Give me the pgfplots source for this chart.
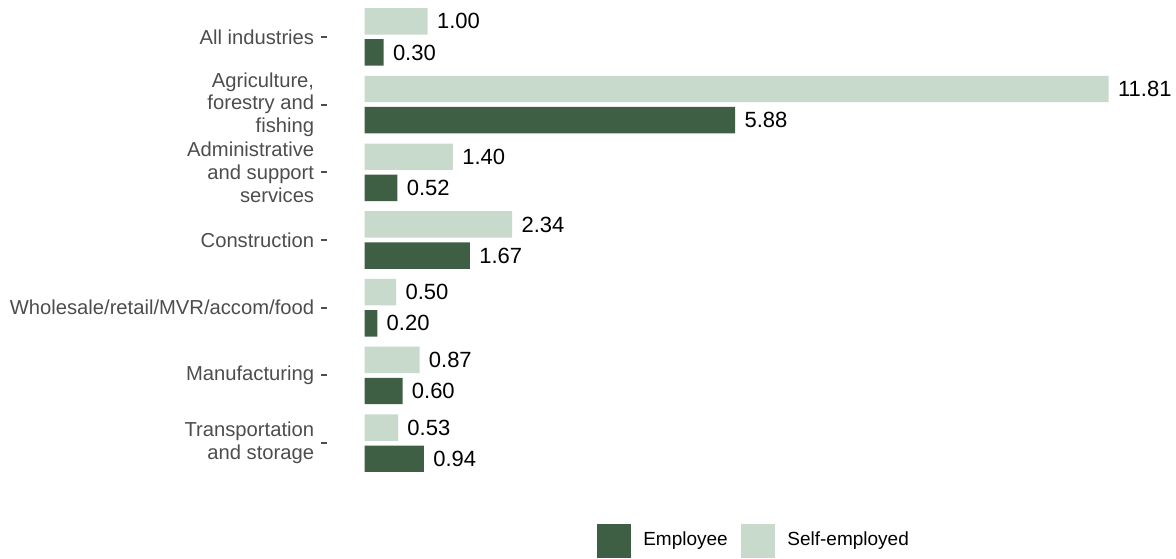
\documentclass[border=0pt]{standalone}
\usepackage{fontspec}
\setmainfont{Liberation Sans}
\usepackage{pgfplots}
\pgfplotsset{compat=1.18}
\definecolor{emp}{HTML}{3F5F45}
\definecolor{selfc}{HTML}{C7DACC}
\definecolor{lab}{HTML}{4D4D4D}
\begin{document}
\begin{tikzpicture}
\path[use as bounding box] (0,0) rectangle (588pt,279pt);
\begin{axis}[
  at={(163.45pt,40.5pt)}, anchor=south west,
  scale only axis, width=409.5pt, height=237pt,
  xmin=-0.6, xmax=12.4, ymin=-0.5, ymax=6.5, y dir=reverse,
  hide x axis,
  axis y line*=left,
  y axis line style={draw=none},
  ytick={0,1,2,3,4,5,6},
  yticklabels={All industries,{Agriculture,\\forestry and\\fishing},{Administrative\\and support\\services},Construction,Wholesale/retail/MVR/accom/food,Manufacturing,{Transportation\\and storage}},
  tick align=outside,
  major tick length=3.2pt,
  ytick style={draw=lab, line width=1pt},
  yticklabel style={font=\fontsize{10.1}{11.4}\selectfont, text=lab, align=right, inner sep=0pt, xshift=-3pt},
  xbar, bar width=0.39, bar shift=0pt,
  clip=false,
  point meta=x,
  nodes near coords,
  every node near coord/.append style={anchor=west, inner sep=0pt, xshift=4.5pt, font=\fontsize{11}{13}\selectfont, text=black},
  /pgf/number format/.cd, fixed, fixed zerofill, precision=2, assume math mode=true,
  /pgfplots/.cd,
  legend columns=2,
  legend style={at={(0.52,-0.134)}, anchor=center, draw=none, fill=none, font=\fontsize{9.5}{11}\selectfont,
    nodes={inner xsep=0pt},
    /tikz/every odd column/.append style={column sep=6.3pt},
    /tikz/every even column/.append style={column sep=6.5pt}},
  legend image code/.code={\fill[#1] (0pt,-8.5pt) rectangle (17pt,8.5pt);},
]
\addplot[fill=emp, draw=none] coordinates {
(0.30,0.23) (5.88,1.23) (0.52,2.23) (1.67,3.23) (0.20,4.23) (0.60,5.23) (0.94,6.23)};
\addplot[fill=selfc, draw=none] coordinates {
(1.00,-0.23) (11.81,0.77) (1.40,1.77) (2.34,2.77) (0.50,3.77) (0.87,4.77) (0.53,5.77)};
\legend{Employee,Self-employed}
\end{axis}
\end{tikzpicture}
\end{document}
